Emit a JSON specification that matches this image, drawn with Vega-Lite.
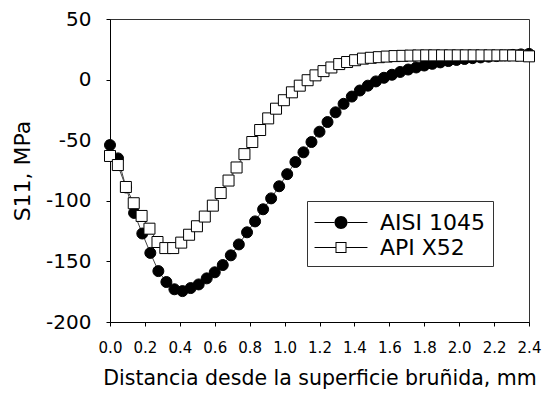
{
  "$schema": "https://vega.github.io/schema/vega-lite/v6.json",
  "width": 419,
  "height": 303,
  "autosize": {"type": "none"},
  "padding": {"left": 110, "top": 19, "right": 24, "bottom": 72},
  "config": {
    "view": {"stroke": "#333", "strokeWidth": 1},
    "font": "DejaVu Sans",
    "axis": {"grid": false, "domainColor": "#000", "tickColor": "#000", "labelColor": "#000", "titleColor": "#000", "titleFontWeight": "normal", "titleFont": "DejaVu Sans", "labelFont": "DejaVu Sans"}
  },
  "data": {
    "values": [
      {"material": "AISI 1045", "d": 0, "s11": -54},
      {"material": "AISI 1045", "d": 0.046, "s11": -65},
      {"material": "AISI 1045", "d": 0.092, "s11": -89},
      {"material": "AISI 1045", "d": 0.138, "s11": -110},
      {"material": "AISI 1045", "d": 0.185, "s11": -127},
      {"material": "AISI 1045", "d": 0.231, "s11": -143},
      {"material": "AISI 1045", "d": 0.277, "s11": -158},
      {"material": "AISI 1045", "d": 0.323, "s11": -167},
      {"material": "AISI 1045", "d": 0.369, "s11": -173},
      {"material": "AISI 1045", "d": 0.415, "s11": -174.5},
      {"material": "AISI 1045", "d": 0.462, "s11": -172},
      {"material": "AISI 1045", "d": 0.508, "s11": -169},
      {"material": "AISI 1045", "d": 0.554, "s11": -164},
      {"material": "AISI 1045", "d": 0.6, "s11": -159},
      {"material": "AISI 1045", "d": 0.646, "s11": -153},
      {"material": "AISI 1045", "d": 0.692, "s11": -145},
      {"material": "AISI 1045", "d": 0.738, "s11": -136},
      {"material": "AISI 1045", "d": 0.785, "s11": -126},
      {"material": "AISI 1045", "d": 0.831, "s11": -117},
      {"material": "AISI 1045", "d": 0.877, "s11": -107},
      {"material": "AISI 1045", "d": 0.923, "s11": -98},
      {"material": "AISI 1045", "d": 0.969, "s11": -88},
      {"material": "AISI 1045", "d": 1.015, "s11": -78},
      {"material": "AISI 1045", "d": 1.062, "s11": -68},
      {"material": "AISI 1045", "d": 1.108, "s11": -60},
      {"material": "AISI 1045", "d": 1.154, "s11": -51.5},
      {"material": "AISI 1045", "d": 1.2, "s11": -43},
      {"material": "AISI 1045", "d": 1.246, "s11": -35},
      {"material": "AISI 1045", "d": 1.292, "s11": -27},
      {"material": "AISI 1045", "d": 1.338, "s11": -20},
      {"material": "AISI 1045", "d": 1.385, "s11": -14},
      {"material": "AISI 1045", "d": 1.431, "s11": -9},
      {"material": "AISI 1045", "d": 1.477, "s11": -5},
      {"material": "AISI 1045", "d": 1.523, "s11": -1.5},
      {"material": "AISI 1045", "d": 1.569, "s11": 1.5},
      {"material": "AISI 1045", "d": 1.615, "s11": 4},
      {"material": "AISI 1045", "d": 1.662, "s11": 6.3},
      {"material": "AISI 1045", "d": 1.708, "s11": 8.3},
      {"material": "AISI 1045", "d": 1.754, "s11": 10},
      {"material": "AISI 1045", "d": 1.8, "s11": 11.6},
      {"material": "AISI 1045", "d": 1.846, "s11": 13},
      {"material": "AISI 1045", "d": 1.892, "s11": 14.2},
      {"material": "AISI 1045", "d": 1.938, "s11": 15.3},
      {"material": "AISI 1045", "d": 1.985, "s11": 16.2},
      {"material": "AISI 1045", "d": 2.031, "s11": 17},
      {"material": "AISI 1045", "d": 2.077, "s11": 17.7},
      {"material": "AISI 1045", "d": 2.123, "s11": 18.3},
      {"material": "AISI 1045", "d": 2.169, "s11": 18.9},
      {"material": "AISI 1045", "d": 2.215, "s11": 19.4},
      {"material": "AISI 1045", "d": 2.262, "s11": 19.9},
      {"material": "AISI 1045", "d": 2.308, "s11": 20.4},
      {"material": "AISI 1045", "d": 2.354, "s11": 20.8},
      {"material": "AISI 1045", "d": 2.4, "s11": 21.2},
      {"material": "API X52", "d": 0, "s11": -63},
      {"material": "API X52", "d": 0.045, "s11": -70.5},
      {"material": "API X52", "d": 0.091, "s11": -88.6},
      {"material": "API X52", "d": 0.136, "s11": -102},
      {"material": "API X52", "d": 0.181, "s11": -112.5},
      {"material": "API X52", "d": 0.226, "s11": -123},
      {"material": "API X52", "d": 0.272, "s11": -134},
      {"material": "API X52", "d": 0.317, "s11": -139},
      {"material": "API X52", "d": 0.362, "s11": -139},
      {"material": "API X52", "d": 0.408, "s11": -134.5},
      {"material": "API X52", "d": 0.453, "s11": -128},
      {"material": "API X52", "d": 0.498, "s11": -121},
      {"material": "API X52", "d": 0.543, "s11": -113},
      {"material": "API X52", "d": 0.589, "s11": -104},
      {"material": "API X52", "d": 0.634, "s11": -93.6},
      {"material": "API X52", "d": 0.679, "s11": -83.3},
      {"material": "API X52", "d": 0.725, "s11": -72.5},
      {"material": "API X52", "d": 0.77, "s11": -61.5},
      {"material": "API X52", "d": 0.815, "s11": -51.5},
      {"material": "API X52", "d": 0.86, "s11": -41.6},
      {"material": "API X52", "d": 0.906, "s11": -32},
      {"material": "API X52", "d": 0.951, "s11": -24},
      {"material": "API X52", "d": 0.996, "s11": -17},
      {"material": "API X52", "d": 1.042, "s11": -10.5},
      {"material": "API X52", "d": 1.087, "s11": -5},
      {"material": "API X52", "d": 1.132, "s11": -0.5},
      {"material": "API X52", "d": 1.177, "s11": 3.5},
      {"material": "API X52", "d": 1.223, "s11": 7},
      {"material": "API X52", "d": 1.268, "s11": 10},
      {"material": "API X52", "d": 1.313, "s11": 12.8},
      {"material": "API X52", "d": 1.358, "s11": 14.5},
      {"material": "API X52", "d": 1.404, "s11": 16},
      {"material": "API X52", "d": 1.449, "s11": 17.3},
      {"material": "API X52", "d": 1.494, "s11": 18},
      {"material": "API X52", "d": 1.54, "s11": 18.5},
      {"material": "API X52", "d": 1.585, "s11": 19},
      {"material": "API X52", "d": 1.63, "s11": 19.4},
      {"material": "API X52", "d": 1.675, "s11": 19.6},
      {"material": "API X52", "d": 1.721, "s11": 19.8},
      {"material": "API X52", "d": 1.766, "s11": 19.9},
      {"material": "API X52", "d": 1.811, "s11": 20},
      {"material": "API X52", "d": 1.857, "s11": 20},
      {"material": "API X52", "d": 1.902, "s11": 20},
      {"material": "API X52", "d": 1.947, "s11": 20},
      {"material": "API X52", "d": 1.992, "s11": 20},
      {"material": "API X52", "d": 2.038, "s11": 20},
      {"material": "API X52", "d": 2.083, "s11": 20},
      {"material": "API X52", "d": 2.128, "s11": 20},
      {"material": "API X52", "d": 2.174, "s11": 20},
      {"material": "API X52", "d": 2.219, "s11": 20},
      {"material": "API X52", "d": 2.264, "s11": 20},
      {"material": "API X52", "d": 2.309, "s11": 19.9},
      {"material": "API X52", "d": 2.355, "s11": 19.7},
      {"material": "API X52", "d": 2.4, "s11": 19.2}
    ]
  },
  "encoding": {
    "x": {
      "field": "d", "type": "quantitative",
      "scale": {"domain": [0, 2.4], "nice": false, "zero": false},
      "axis": {"values": [0, 0.2, 0.4, 0.6, 0.8, 1.0, 1.2, 1.4, 1.6, 1.8, 2.0, 2.2, 2.4], "format": ".1f", "title": "Distancia desde la superficie bruñida, mm", "labelFontSize": 15, "titleFontSize": 20.5, "tickSize": 4, "labelPadding": 14, "titlePadding": 13, "labelFlush": false, "labelOverlap": false}
    },
    "y": {
      "field": "s11", "type": "quantitative",
      "scale": {"domain": [-200, 50], "nice": false, "zero": false},
      "axis": {"values": [-200, -150, -100, -50, 0, 50], "labelExpr": "datum.value < 0 ? '-' + abs(datum.value) : '' + datum.value", "title": "S11, MPa", "labelFontSize": 20, "titleFontSize": 22, "tickSize": 4, "labelPadding": 15, "titlePadding": 11, "labelFlush": false}
    }
  },
  "layer": [
    {
      "mark": {"type": "line", "color": "#444", "strokeWidth": 1},
      "encoding": {"detail": {"field": "material"}}
    },
    {
      "transform": [{"filter": "datum.material === 'AISI 1045'"}],
      "mark": {"type": "point", "shape": "circle", "filled": true, "fill": "#000", "stroke": "#000", "strokeWidth": 1, "opacity": 1, "size": 121}
    },
    {
      "transform": [{"filter": "datum.material === 'API X52'"}],
      "mark": {"type": "point", "shape": "square", "filled": true, "fill": "#fff", "stroke": "#000", "strokeWidth": 1, "opacity": 1, "size": 121}
    },
    {
      "transform": [{"filter": "false"}],
      "mark": {"type": "point", "filled": true, "fill": "#000", "strokeWidth": 0, "opacity": 1},
      "encoding": {
        "shape": {
          "field": "material", "type": "nominal",
          "scale": {"domain": ["AISI 1045", "API X52"], "range": [
            "M-1.89,-0.036H-0.45V0.036H-1.89ZM0.45,-0.036H1.89V0.036H0.45ZM-0.464,0A0.464,0.464,0,1,0,0.464,0A0.464,0.464,0,1,0,-0.464,0Z",
            "M-1.89,-0.036H-0.393V0.036H-1.89ZM0.393,-0.036H1.89V0.036H0.393ZM-0.393,-0.393H0.393V0.393H-0.393ZM-0.321,-0.321V0.321H0.321V-0.321Z"
          ]},
          "legend": {
            "title": null,
            "orient": "none", "legendX": 197, "legendY": 182,
            "padding": 7.5, "strokeColor": "#333", "fillColor": "#fff",
            "symbolSize": 784, "symbolOffset": 12.5, "labelOffset": 25,
            "rowPadding": 0, "labelFontSize": 22, "labelFont": "DejaVu Sans", "labelColor": "#000",
            "symbolFillColor": "#000", "symbolStrokeWidth": 0
          }
        }
      }
    }
  ]
}
